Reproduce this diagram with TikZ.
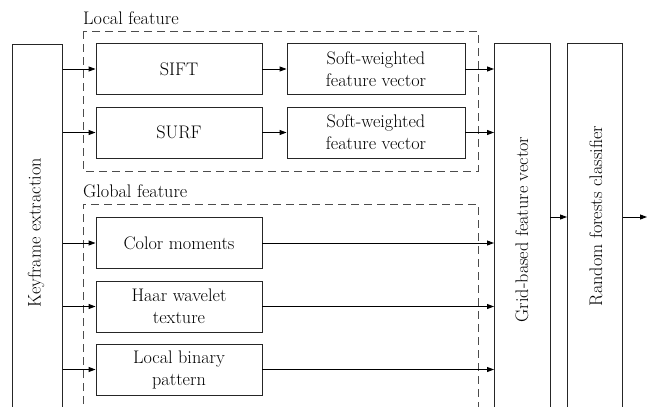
\documentclass[tikz,border=0pt]{standalone}
\usetikzlibrary{arrows.meta}
\begin{document}
\begin{tikzpicture}[x=1pt,y=-1pt,
  every node/.style={font=\rmfamily\fontsize{18.2}{22}\selectfont},
  box/.style={draw=black!85,line width=0.9pt,inner sep=0pt,minimum width=#1,align=center},
  featbox/.style={box=166pt,minimum height=51pt},
  softbox/.style={box=178pt,minimum height=51pt},
  tallbox/.style={draw=black!85,line width=0.9pt,inner sep=0pt},
  group/.style={draw=black!70,line width=0.9pt,dash pattern=on 8pt off 5pt},
  arr/.style={line width=0.9pt,-{Triangle[length=7pt,width=5pt]}},
  lbl/.style={inner sep=0pt}]
\useasboundingbox (0,0) rectangle (648,407);
\clip (0,0) rectangle (648,407);
% dashed groups
\draw[group] (83,31) rectangle (478,171);
\draw[group] (83,430) |- (478,204) -- (478,430);
\node[lbl,anchor=base west] (loclbl) at (83,24) {Local feature};
\node[lbl,anchor=base west] (glolbl) at (83,197) {Global feature};
% tall boxes
\node[tallbox,minimum width=50pt,minimum height=400pt,anchor=north west] (kf) at (12,44) {};
\node[tallbox,minimum width=56pt,minimum height=400pt,anchor=north west] (grid) at (494,43) {};
\node[tallbox,minimum width=55pt,minimum height=400pt,anchor=north west] (rf) at (567,43) {};
\node[lbl,rotate=90] (kft) at (36,233) {Keyframe extraction};
\node[lbl,rotate=90] (gridt) at (522,229.5) {Grid-based feature vector};
\node[lbl,rotate=90] (rft) at (596,216) {Random forests classifier};
% feature boxes
\node[featbox] (sift) at (179,69) {SIFT};
\node[featbox] (surf) at (179,132.5) {SURF};
\node[softbox] (soft1) at (376,69) {Soft-weighted\\feature vector};
\node[softbox] (soft2) at (376,132.5) {Soft-weighted\\feature vector};
\node[featbox] (color) at (179,243) {Color moments};
\node[featbox] (haar) at (179,306.5) {Haar wavelet\\texture};
\node[featbox] (lbp) at (179,369.5) {Local binary\\pattern};
% connectors
\foreach \n in {sift,surf,color,haar,lbp}
  \draw[arr] (kf.east |- \n.west) -- (\n.west);
\draw[arr] (sift) -- (soft1);
\draw[arr] (surf) -- (soft2);
\foreach \n in {soft1,soft2,color,haar,lbp}
  \draw[arr] (\n.east) -- (grid.west |- \n.east);
\coordinate (gr) at (550,217);
\draw[arr] (gr) -- (rf.west |- gr);
\coordinate (out) at (647,217);
\draw[arr] (rf.east |- out) -- (out);
\end{tikzpicture}
\end{document}
